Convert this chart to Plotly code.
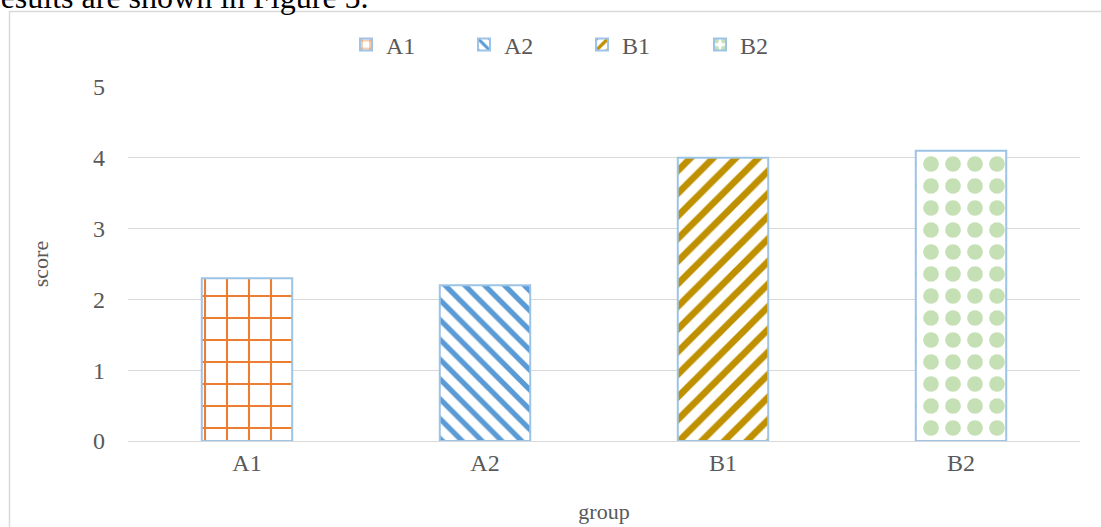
import plotly.graph_objects as go

groups = ["A1", "A2", "B1", "B2"]
scores = [2.3, 2.2, 4.0, 4.1]
y_ticks = [0, 1, 2, 3, 4, 5]

colors = ["#ED7D31", "#5B9BD5", "#BF9000", "#C5E0B4"]
shapes_ = ["+", "\\", "/", "."]
sizes = [22, 14, 16, 22]
solid = [0.18, 0.38, 0.42, 0.4]

W, H = 1101, 527
L, R, T, B = 128, 21, 87, 86
pw, ph = W - L - R, H - T - B

def px_x(x):
    return (x - L) / pw

def px_y(y):
    return (H - B - y) / ph

FONT = "Liberation Serif, Times New Roman, serif"
GREY = "#595959"

fig = go.Figure()
for g, s, c, sh, sz, so in zip(groups, scores, colors, shapes_, sizes, solid):
    fig.add_trace(go.Bar(
        x=[g], y=[s], name=g,
        marker=dict(
            color=c,
            line=dict(color="#9DC3E6", width=2),
            pattern=dict(shape=sh, fgcolor=c, bgcolor="white", size=sz,
                         solidity=so, fillmode="replace", fgopacity=1),
        ),
    ))

fig.update_layout(
    width=W, height=H,
    margin=dict(l=L, r=R, t=T, b=B, autoexpand=False),
    paper_bgcolor="white", plot_bgcolor="white",
    barmode="overlay", bargap=0.62,
    font=dict(family=FONT, size=24, color=GREY),
    legend=dict(
        orientation="h", x=px_x(346), y=px_y(45), xanchor="left", yanchor="middle",
        entrywidth=73, entrywidthmode="pixels",
        font=dict(family=FONT, size=24, color=GREY),
        bgcolor="rgba(0,0,0,0)",
    ),
    xaxis=dict(
        showgrid=False, showline=False, zeroline=False, automargin=False,
        ticks="", ticklabelstandoff=5,
        title=dict(text="group", font=dict(family=FONT, size=22, color=GREY), standoff=28),
    ),
    yaxis=dict(
        range=[0, 5], tickvals=y_ticks, showgrid=True, gridcolor="#D9D9D9", gridwidth=1,
        zeroline=True, zerolinecolor="#D9D9D9", zerolinewidth=1, showline=False,
        automargin=False, ticks="", ticklabelstandoff=22,
        title=dict(text="score", font=dict(family=FONT, size=22, color=GREY), standoff=38),
    ),
    shapes=[dict(
        type="rect", xref="paper", yref="paper",
        x0=px_x(9.5), x1=px_x(1130), y0=px_y(560), y1=px_y(11.5),
        line=dict(color="#D9D9D9", width=1.5), fillcolor="rgba(0,0,0,0)", layer="below",
    )],
    annotations=[dict(
        text="results are shown in Figure 5.", xref="paper", yref="paper",
        x=px_x(371), y=px_y(17), xanchor="right", yanchor="bottom", showarrow=False,
        font=dict(family=FONT, size=32, color="black"),
    )],
)

fig.write_html("out.html")
